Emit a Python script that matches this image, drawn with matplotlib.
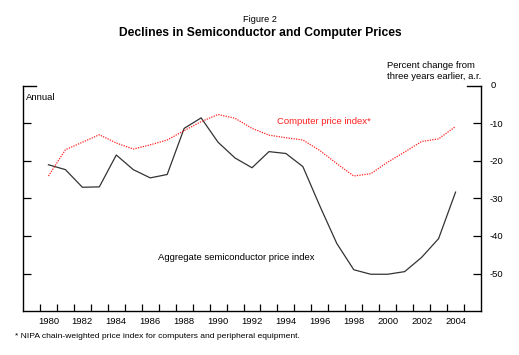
import matplotlib
matplotlib.use("Agg")
import matplotlib.pyplot as plt
import matplotlib.transforms as mtransforms

plt.rcParams['font.family'] = ['Liberation Sans', 'DejaVu Sans']
plt.rcParams['axes.unicode_minus'] = False

years = [1980, 1981, 1982, 1983, 1984, 1985, 1986, 1987, 1988, 1989, 1990, 1991,
         1992, 1993, 1994, 1995, 1996, 1997, 1998, 1999, 2000, 2001, 2002, 2003, 2004]
semiconductor = [-21.0, -22.3, -27.0, -26.9, -18.4, -22.3, -24.5, -23.6, -11.3, -8.5,
                 -15.0, -19.2, -21.8, -17.5, -18.0, -21.5, -32.0, -42.0, -49.0, -50.2,
                 -50.2, -49.5, -45.7, -40.7, -28.3]
computer = [-24.0, -17.0, -15.0, -13.0, -15.2, -16.8, -15.7, -14.4, -11.9, -9.5,
            -7.6, -8.6, -11.3, -13.1, -13.8, -14.4, -17.2, -20.7, -24.0, -23.4,
            -20.3, -17.6, -14.8, -14.1, -10.8]
year_labels = [1980, 1982, 1984, 1986, 1988, 1990, 1992, 1994, 1996, 1998, 2000, 2002, 2004]
y_ticks = [-50, -40, -30, -20, -10, 0]

W, H = 519, 355
fig = plt.figure(figsize=(W / 100, H / 100), dpi=100)
ax = fig.add_axes([23 / W, (H - 311) / H, (481 - 23) / W, (311 - 86) / H])

xs = [y + 0.5 for y in years]
ax.plot(xs, semiconductor, color='#333333', lw=0.9)
ax.plot(xs, computer, color='#ff2020', lw=0.9, linestyle=(0, (1, 1)))

ax.set_xlim(1979, 2006)
ax.set_ylim(-60, 0)

ax.spines['top'].set_visible(False)
for s in ['left', 'right', 'bottom']:
    ax.spines[s].set_linewidth(1.0)
    ax.spines[s].set_color('black')

# x ticks: marks at year boundaries, labels centered mid-year
ax.set_xticks(list(range(1980, 2006)))
ax.set_xticklabels([])
ax.set_xticks([y + 0.5 for y in year_labels], minor=True)
ax.set_xticklabels([str(y) for y in year_labels], minor=True, fontsize=6.8)
ax.tick_params(axis='x', which='major', direction='in', length=5, width=0.9)
ax.tick_params(axis='x', which='minor', length=0, pad=4)

ax.set_yticks(y_ticks[:-1])
ax.yaxis.set_ticks_position('both')
ax.tick_params(axis='y', which='major', direction='in', length=6, width=0.9,
               labelleft=False, labelright=True, labelsize=6.8, pad=6)
# longer tick marks at zero on both sides
trans = mtransforms.blended_transform_factory(ax.transAxes, ax.transData)
ax.plot([0, 13 / 458], [0, 0], transform=trans, color='black', lw=1.0, clip_on=False)
ax.plot([1 - 14 / 458, 1], [0, 0], transform=trans, color='black', lw=1.0, clip_on=False)
ax.text(1 + 10 / 458, y_ticks[-1], str(y_ticks[-1]), transform=trans, fontsize=6.8,
        ha='left', va='center')

fig.text(260 / W, 1 - 19 / H, 'Figure 2', ha='center', va='center', fontsize=6.6)
fig.text(260 / W, 1 - 33 / H, 'Declines in Semiconductor and Computer Prices',
         ha='center', va='center', fontsize=8.7, fontweight='bold')
fig.text(387 / W, 1 - 71 / H, 'Percent change from\nthree years earlier, a.r.',
         ha='left', va='center', fontsize=6.8, linespacing=1.3)
fig.text(26 / W, 1 - 98 / H, 'Annual', ha='left', va='center', fontsize=6.8)
fig.text(277 / W, 1 - 121 / H, 'Computer price index*', ha='left', va='center',
         fontsize=6.8, color='#ff2020')
fig.text(158 / W, 1 - 257 / H, 'Aggregate semiconductor price index', ha='left',
         va='center', fontsize=6.8)
fig.text(15 / W, 1 - 336 / H,
         '* NIPA chain-weighted price index for computers and peripheral equipment.',
         ha='left', va='center', fontsize=6.1)

fig.savefig('out.png', dpi=100)
